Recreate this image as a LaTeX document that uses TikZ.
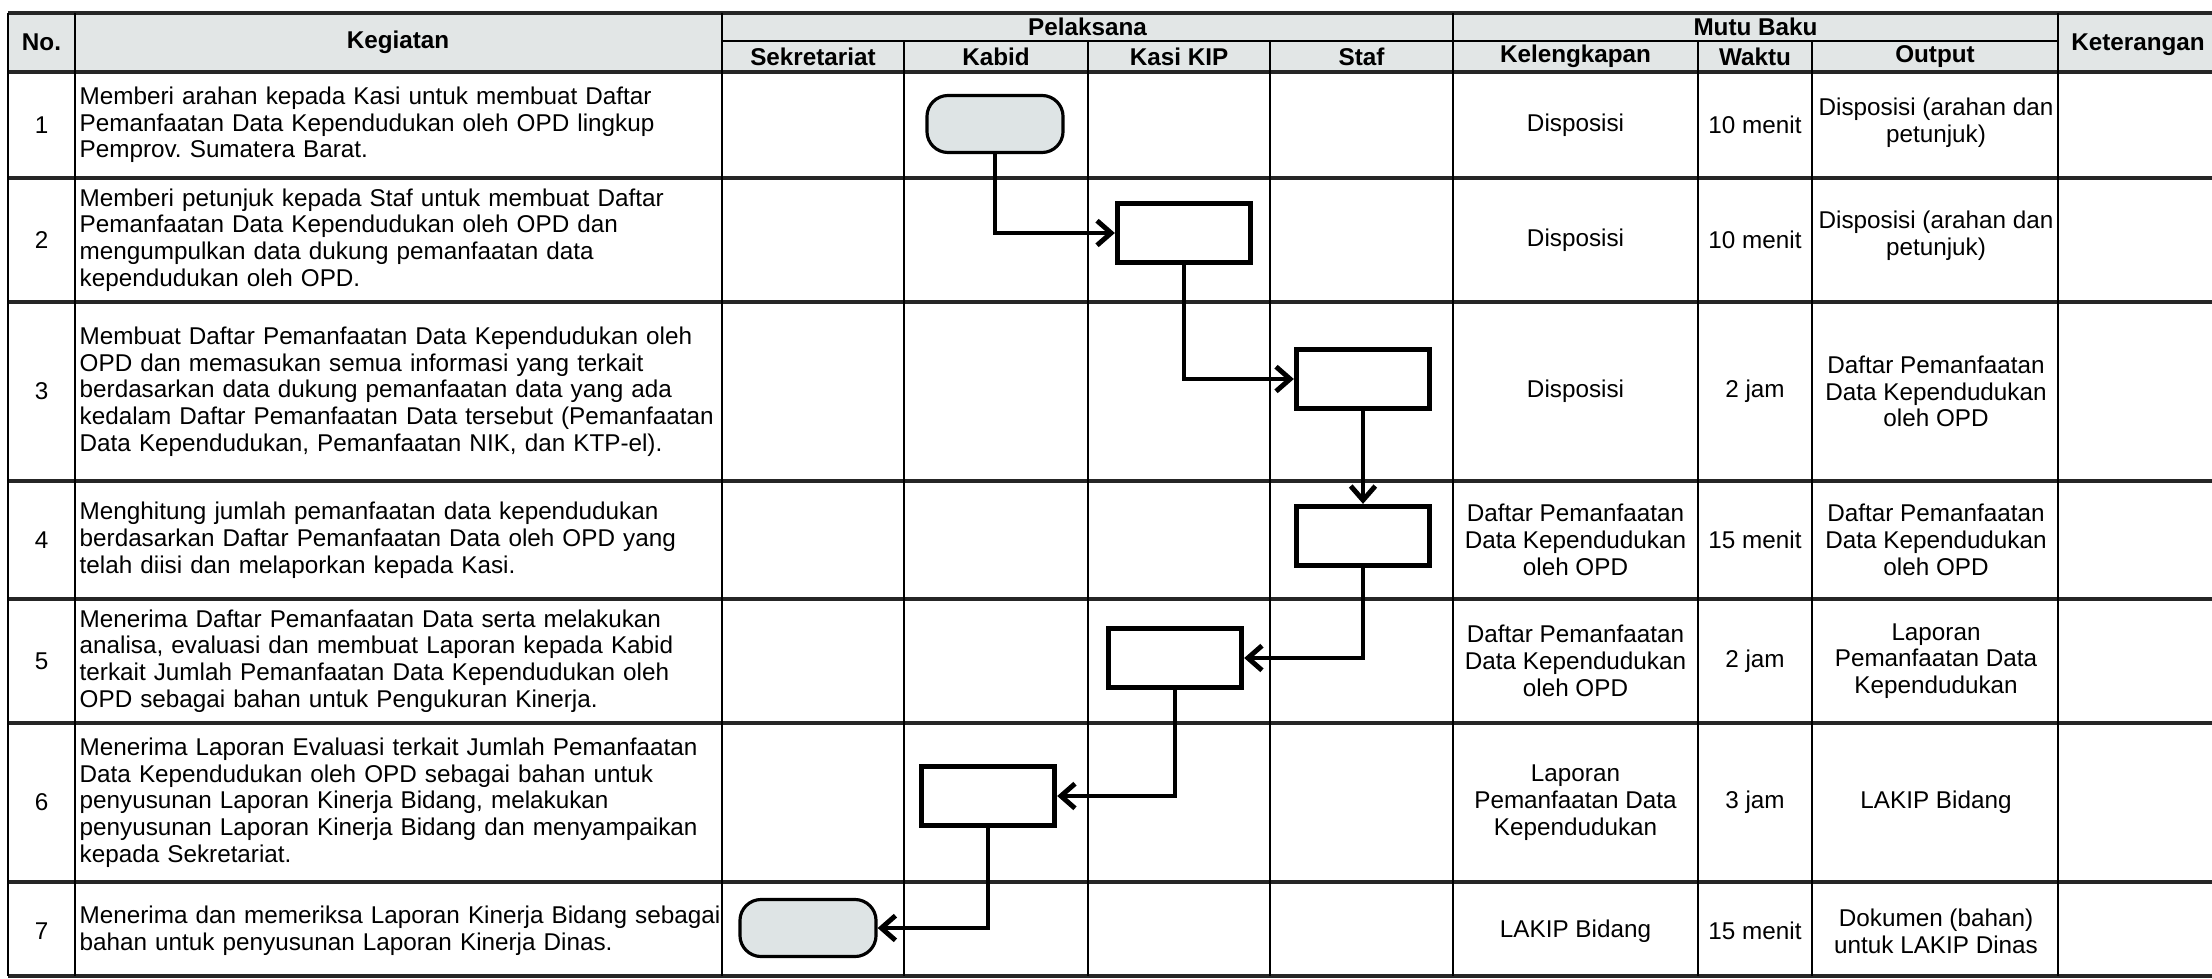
\documentclass[tikz,border=0pt]{standalone}
\usepackage{fontspec}
\setmainfont{Liberation Sans}
\usetikzlibrary{arrows.meta}

\definecolor{headgray}{RGB}{226,230,230}
\definecolor{termgray}{RGB}{222,228,229}

\newcommand{\formfont}{\fontsize{6.9pt}{7.6pt}\selectfont}

\tikzstyle{grid}=[line width=0.6pt,
                                    draw=black]
\tikzstyle{rowline}=[line width=0.9pt,
                                    draw=black!85]
\tikzstyle{head}=[inner sep=0pt,
                                    font=\formfont\bfseries]
\tikzstyle{act}=[inner sep=0pt,
                                    anchor=west,
                                    text width=6.45cm,
                                    align=left]
\tikzstyle{cell}=[inner sep=0pt,
                                    align=center]
\tikzstyle{terminal}=[rectangle,
                                    rounded corners=6pt,
                                    minimum width=1.36cm,
                                    minimum height=0.57cm,
                                    line width=0.9pt,
                                    draw=black,
                                    fill=termgray]
\tikzstyle{process}=[rectangle,
                                    minimum width=1.33cm,
                                    minimum height=0.59cm,
                                    line width=1.5pt,
                                    draw=black,
                                    fill=white]
\tikzstyle{flow}=[line width=1.4pt]
\tikzstyle{elbow}=[to path={|- (\tikztotarget) \tikztonodes}]

\begin{document}
\frenchspacing
\begin{tikzpicture}[x=0.01cm,y=-0.01cm,>={Straight Barb[length=4pt,width=7pt]},
    font=\formfont]
    % the picture is measured in pixels of the scanned form
    \useasboundingbox (0,0) rectangle (2212,979);

  % Header band
  \fill[headgray] (8,13) rectangle (2230,72);

  % Table grid: rows
  \draw[rowline] (8,13) -- (2230,13)
                 (8,72) -- (2230,72)
                 (8,178) -- (2230,178)
                 (8,302) -- (2230,302)
                 (8,481) -- (2230,481)
                 (8,599) -- (2230,599)
                 (8,723) -- (2230,723)
                 (8,882) -- (2230,882)
                 (8,976) -- (2230,976);
  \draw[grid] (722,41) -- (2058,41);

  % Table grid: columns
  \draw[grid] (8,13) -- (8,976)
              (75,13) -- (75,976)
              (722,13) -- (722,976)
              (904,41) -- (904,976)
              (1088,41) -- (1088,976)
              (1270,41) -- (1270,976)
              (1453,13) -- (1453,976)
              (1698,41) -- (1698,976)
              (1812,41) -- (1812,976)
              (2058,13) -- (2058,976);

  % Header labels
  \node[head] (hNo) at (41.5,42.5) {No.};
  \node[head] (hKeg) at (398,42.5) {Kegiatan};
  \node[head] (hPel) at (1087.5,27) {Pelaksana};
  \node[head] (hSek) at (813,56.5) {Sekretariat};
  \node[head] (hKab) at (996,56.5) {Kabid};
  \node[head] (hKasi) at (1179,56.5) {Kasi KIP};
  \node[head] (hStaf) at (1361.5,56.5) {Staf};
  \node[head] (hMutu) at (1755.5,27) {Mutu Baku};
  \node[head] (hKel) at (1575.5,56.5) {Kelengkapan};
  \node[head] (hWak) at (1755,56.5) {Waktu};
  \node[head] (hOut) at (1935,56.5) {Output};
  \node[head] (hKet) at (2138,45) {Keterangan};

  % Row 1
  \node[cell] (no1) at (41.5,125) {1};
  \node[act] (keg1) at (79,125) {Memberi arahan kepada Kasi untuk membuat Daftar\\Pemanfaatan Data Kependudukan oleh OPD lingkup\\Pemprov. Sumatera Barat.};
  \node[cell] (kel1) at (1575.5,125) {Disposisi};
  \node[cell] (wak1) at (1755,125) {10 menit};
  \node[cell] (out1) at (1936,123) {Disposisi (arahan dan\\petunjuk)};

  % Row 2
  \node[cell] (no2) at (41.5,240) {2};
  \node[act] (keg2) at (79,240) {Memberi petunjuk kepada Staf untuk membuat Daftar\\Pemanfaatan Data Kependudukan oleh OPD dan\\mengumpulkan data dukung pemanfaatan data\\kependudukan oleh OPD.};
  \node[cell] (kel2) at (1575.5,240) {Disposisi};
  \node[cell] (wak2) at (1755,240) {10 menit};
  \node[cell] (out2) at (1936,236) {Disposisi (arahan dan\\petunjuk)};

  % Row 3
  \node[cell] (no3) at (41.5,391.5) {3};
  \node[act] (keg3) at (79,391.5) {Membuat Daftar Pemanfaatan Data Kependudukan oleh\\OPD dan memasukan semua informasi yang terkait\\berdasarkan data dukung pemanfaatan data yang ada\\kedalam Daftar Pemanfaatan Data tersebut (Pemanfaatan\\Data Kependudukan, Pemanfaatan NIK, dan KTP-el).};
  \node[cell] (kel3) at (1575.5,391.5) {Disposisi};
  \node[cell] (wak3) at (1755,391.5) {2 jam};
  \node[cell] (out3) at (1936,391.5) {Daftar Pemanfaatan\\Data Kependudukan\\oleh OPD};

  % Row 4
  \node[cell] (no4) at (41.5,540) {4};
  \node[act] (keg4) at (79,540) {Menghitung jumlah pemanfaatan data kependudukan\\berdasarkan Daftar Pemanfaatan Data oleh OPD yang\\telah diisi dan melaporkan kepada Kasi.};
  \node[cell] (kel4) at (1575.5,540) {Daftar Pemanfaatan\\Data Kependudukan\\oleh OPD};
  \node[cell] (wak4) at (1755,540) {15 menit};
  \node[cell] (out4) at (1936,540) {Daftar Pemanfaatan\\Data Kependudukan\\oleh OPD};

  % Row 5
  \node[cell] (no5) at (41.5,661) {5};
  \node[act] (keg5) at (79,661) {Menerima Daftar Pemanfaatan Data serta melakukan\\analisa, evaluasi dan membuat Laporan kepada Kabid\\terkait Jumlah Pemanfaatan Data Kependudukan oleh\\OPD sebagai bahan untuk Pengukuran Kinerja.};
  \node[cell] (kel5) at (1575.5,661) {Daftar Pemanfaatan\\Data Kependudukan\\oleh OPD};
  \node[cell] (wak5) at (1755,661) {2 jam};
  \node[cell] (out5) at (1936,661) {Laporan\\Pemanfaatan Data\\Kependudukan};

  % Row 6
  \node[cell] (no6) at (41.5,802.5) {6};
  \node[act] (keg6) at (79,802.5) {Menerima Laporan Evaluasi terkait Jumlah Pemanfaatan\\Data Kependudukan oleh OPD sebagai bahan untuk\\penyusunan Laporan Kinerja Bidang, melakukan\\penyusunan Laporan Kinerja Bidang dan menyampaikan\\kepada Sekretariat.};
  \node[cell] (kel6) at (1575.5,802.5) {Laporan\\Pemanfaatan Data\\Kependudukan};
  \node[cell] (wak6) at (1755,802.5) {3 jam};
  \node[cell] (out6) at (1936,802.5) {LAKIP Bidang};

  % Row 7
  \node[cell] (no7) at (41.5,931) {7};
  \node[act] (keg7) at (79,931) {Menerima dan memeriksa Laporan Kinerja Bidang sebagai\\bahan untuk penyusunan Laporan Kinerja Dinas.};
  \node[cell] (kel7) at (1575.5,931) {LAKIP Bidang};
  \node[cell] (wak7) at (1755,931) {15 menit};
  \node[cell] (out7) at (1936,931) {Dokumen (bahan)\\untuk LAKIP Dinas};

  % Flow shapes in the Pelaksana lanes
  \node[terminal] (start) at (995,124) {};
  \node[process] (kasiA) at (1184,233) {};
  \node[process] (stafA) at (1363,379) {};
  \node[process] (stafB) at (1363,536) {};
  \node[process] (kasiB) at (1175,658) {};
  \node[process] (kabidA) at (988,796) {};
  \node[terminal] (finish) at (808,928) {};

  % The flow between the actors
  \path[->]
      (start) edge[flow,elbow] (kasiA)
      (kasiA) edge[flow,elbow] (stafA)
      (stafA) edge[flow] (stafB)
      (stafB) edge[flow,elbow] (kasiB)
      (kasiB) edge[flow,elbow] (kabidA)
      (kabidA) edge[flow,elbow] (finish)
      ;

\end{tikzpicture}
\end{document}
